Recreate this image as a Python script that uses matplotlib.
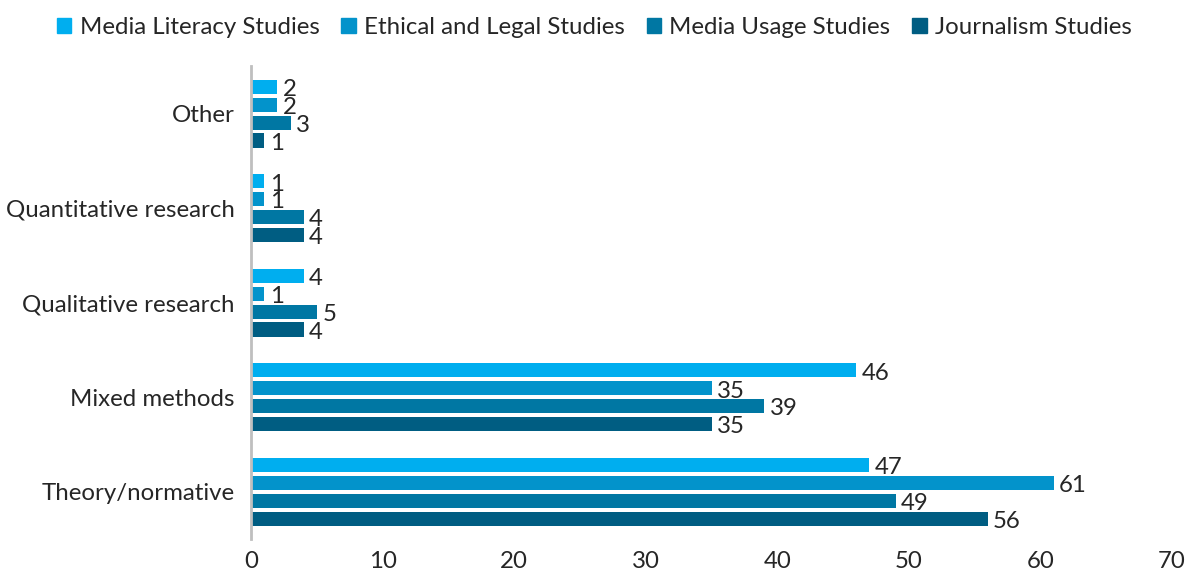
import matplotlib
matplotlib.use("Agg")
import matplotlib.pyplot as plt
import numpy as np
from matplotlib.patches import Patch

plt.rcParams['font.family'] = ['Lato', 'DejaVu Sans']

categories = ["Theory/normative", "Mixed methods", "Qualitative research", "Quantitative research", "Other"]
series_names = ["Media Literacy Studies", "Ethical and Legal Studies", "Media Usage Studies", "Journalism Studies"]
media_literacy = [47, 46, 4, 1, 2]
ethical_legal = [61, 35, 1, 1, 2]
media_usage = [49, 39, 5, 4, 3]
journalism = [56, 35, 4, 4, 1]
xticks = [0, 10, 20, 30, 40, 50, 60, 70]

series = [media_literacy, ethical_legal, media_usage, journalism]
colors = ["#00AEEF", "#0393CB", "#0077A3", "#005D82"]

FS = 17.3

fig = plt.figure(figsize=(11.96, 5.77), dpi=100)
ax = fig.add_axes([0.21, 0.066, 0.77, 0.819])

y = np.arange(len(categories))
pitch = 0.19
height = 0.15
for i, (vals, c) in enumerate(zip(series, colors)):
    off = (1.5 - i) * pitch
    bars = ax.barh(y + off, vals, height=height, color=c)
    for b, v in zip(bars, vals):
        ax.text(b.get_width() + 0.4, b.get_y() + b.get_height() / 2 - 0.03, str(v),
                va='center', ha='left', fontsize=FS, color='#262626')

ax.set_xlim(0, 70)
ax.set_ylim(-0.5, 4.5)
ax.set_xticks(xticks)
ax.set_xticklabels([str(t) for t in xticks], fontsize=FS, color='#262626')
ax.set_yticks(y)
ax.set_yticklabels(categories, fontsize=FS, color='#262626')
ax.tick_params(axis='x', length=0, pad=9)
ax.tick_params(axis='y', length=0, pad=12)
for s in ['top', 'right', 'bottom']:
    ax.spines[s].set_visible(False)
ax.spines['left'].set_color('#BFBFBF')
ax.spines['left'].set_linewidth(2)

handles = [Patch(color=c, label=n) for c, n in zip(colors, series_names)]
fig.legend(handles=handles, loc='upper center', bbox_to_anchor=(0.497, 1.008), ncol=4,
           frameon=False, fontsize=FS, handlelength=0.6, handleheight=0.6,
           handletextpad=0.35, columnspacing=0.9, labelcolor='#262626')

fig.savefig("out.png", dpi=100)
